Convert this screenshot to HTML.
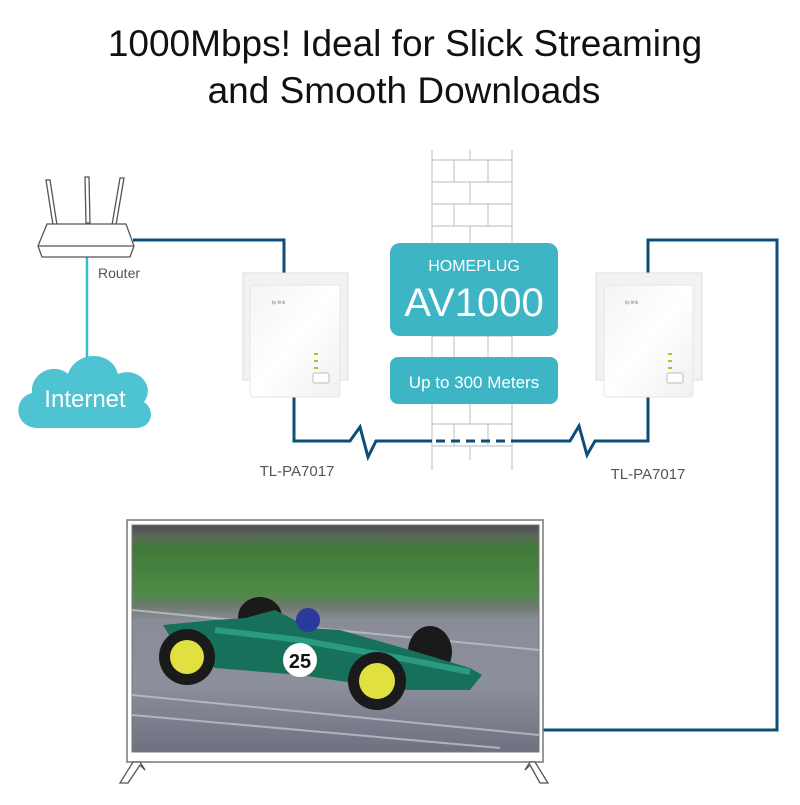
<!DOCTYPE html>
<html><head><meta charset="utf-8"><style>
body{margin:0;background:#fff;width:800px;height:800px;overflow:hidden;font-family:"Liberation Sans",sans-serif}
</style></head><body>
<svg width="800" height="800" viewBox="0 0 800 800" xmlns="http://www.w3.org/2000/svg" font-family="Liberation Sans, sans-serif">
<defs>
<linearGradient id="ad" x1="0" y1="0" x2="1" y2="1"><stop offset="0" stop-color="#f4f4f4"/><stop offset="0.5" stop-color="#ffffff"/><stop offset="1" stop-color="#f0f0f0"/></linearGradient>
<linearGradient id="scr" x1="0" y1="0" x2="0" y2="1">
<stop offset="0" stop-color="#4a4d55"/><stop offset="0.05" stop-color="#5a6a55"/><stop offset="0.1" stop-color="#3f7a3a"/><stop offset="0.3" stop-color="#4f8a45"/><stop offset="0.36" stop-color="#6d7a70"/><stop offset="0.42" stop-color="#8a8d98"/><stop offset="0.7" stop-color="#8c8f9c"/><stop offset="1" stop-color="#6e7180"/></linearGradient>
</defs>
<text x="405" y="56" text-anchor="middle" font-size="37" fill="#111">1000Mbps! Ideal for Slick Streaming</text>
<text x="404" y="103" text-anchor="middle" font-size="37" fill="#111">and Smooth Downloads</text>

<!-- wall -->
<path fill="none" stroke="#c8c8c8" stroke-width="1.2" d="
M432,150V470 M512,150V470
M432,160H512 M432,182H512 M432,204H512 M432,226H512 M432,248H512 M432,270H512 M432,292H512 M432,314H512 M432,336H512 M432,358H512 M432,380H512 M432,402H512 M432,424H512 M432,446H512
M454,160V182 M488,160V182 M454,204V226 M488,204V226 M454,248V270 M488,248V270 M454,292V314 M488,292V314 M454,336V358 M488,336V358 M454,380V402 M488,380V402 M454,424V446 M488,424V446
M470,150V160 M470,182V204 M470,226V248 M470,270V292 M470,314V336 M470,358V380 M470,402V424 M470,446V460"/>

<!-- cables -->
<g fill="none" stroke="#0d4d7a" stroke-width="3">
<polyline points="133,240 284,240 284,274"/>
<polyline points="294,397 294,441 350,441 360,427 368,457 376,441 432,441"/>
<line x1="436" y1="441" x2="512" y2="441" stroke-dasharray="9,6"/>
<polyline points="512,441 570,441 579,426 587,455 595,441 648,441 648,397"/>
<polyline points="648,274 648,240 777,240 777,730 543,730"/>
</g>
<line x1="87" y1="257" x2="87" y2="360" stroke="#3bbccc" stroke-width="2.5"/>

<!-- router -->
<g stroke="#555" stroke-width="1.3" fill="#fff">
<path d="M46,180 L50,180 L57,225 L53,225Z"/>
<path d="M85,177 L89,177 L90,223 L86,223Z"/>
<path d="M120,178 L124,178 L116,225 L112,225Z"/>
<path d="M47,224 L126,224 L134,246 L130,257 L42,257 L38,246Z"/>
<line x1="39" y1="246" x2="133" y2="246"/>
</g>
<text x="98" y="278" font-size="14" fill="#555">Router</text>

<!-- cloud -->
<path d="M38,428 C14,428 12,398 32,393 C30,372 55,362 68,374 C76,350 112,350 118,374 C138,366 156,386 144,402 C156,410 152,428 136,428 Z" fill="#4ec3d2"/>
<text x="85" y="407" text-anchor="middle" font-size="24" fill="#fff">Internet</text>

<!-- adapters -->
<g>
<rect x="243" y="273" width="105" height="107" fill="#f2f2f2" stroke="#ddd"/>
<rect x="250" y="285" width="90" height="112" rx="3" fill="url(#ad)" stroke="#e6e6e6"/>
<text x="272" y="304" font-size="5" fill="#888">tp-link</text>
<rect x="314" y="353" width="4" height="2" fill="#9c3"/><rect x="314" y="360" width="4" height="2" fill="#9c3"/><rect x="314" y="367" width="4" height="2" fill="#9c3"/>
<rect x="313" y="373" width="16" height="10" rx="2" fill="#fff" stroke="#bbb"/>
</g>
<g>
<rect x="596" y="273" width="106" height="107" fill="#f2f2f2" stroke="#ddd"/>
<rect x="604" y="285" width="89" height="112" rx="3" fill="url(#ad)" stroke="#e6e6e6"/>
<text x="625" y="304" font-size="5" fill="#888">tp-link</text>
<rect x="668" y="353" width="4" height="2" fill="#9c3"/><rect x="668" y="360" width="4" height="2" fill="#9c3"/><rect x="668" y="367" width="4" height="2" fill="#9c3"/>
<rect x="667" y="373" width="16" height="10" rx="2" fill="#fff" stroke="#bbb"/>
</g>

<!-- boxes -->
<rect x="390" y="243" width="168" height="93" rx="10" fill="#3db5c4"/>
<text x="474" y="271" text-anchor="middle" font-size="16" fill="#fff">HOMEPLUG</text>
<text x="474" y="316" text-anchor="middle" font-size="40" fill="#fff">AV1000</text>
<rect x="390" y="357" width="168" height="47" rx="8" fill="#3db5c4"/>
<text x="474" y="388" text-anchor="middle" font-size="17" fill="#fff">Up to 300 Meters</text>

<text x="297" y="476" text-anchor="middle" font-size="15" fill="#555">TL-PA7017</text>
<text x="648" y="479" text-anchor="middle" font-size="15" fill="#555">TL-PA7017</text>

<!-- TV -->
<rect x="127" y="520" width="416" height="242" fill="#fff" stroke="#777" stroke-width="1.5"/>
<rect x="132" y="525" width="407" height="227" fill="url(#scr)" stroke="#777"/>
<g stroke="#bfc2cc" stroke-width="2" opacity="0.8">
<line x1="132" y1="610" x2="539" y2="650"/><line x1="132" y1="695" x2="539" y2="735"/><line x1="132" y1="715" x2="500" y2="748"/>
</g>
<!-- car -->
<ellipse cx="260" cy="617" rx="22" ry="20" fill="#1a1a1a"/>
<ellipse cx="430" cy="652" rx="22" ry="26" fill="#1a1a1a"/>
<path d="M163,625 L215,620 L245,618 L275,610 L310,628 L340,630 L410,650 L470,668 L482,675 L470,690 L400,690 L300,675 L215,668 L172,640Z" fill="#17705a"/>
<path d="M215,630 L300,640 L410,660 L470,672" stroke="#2a9a80" stroke-width="6" fill="none"/>
<circle cx="300" cy="660" r="17" fill="#fff"/>
<text x="300" y="668" text-anchor="middle" font-size="20" font-weight="bold" fill="#111">25</text>
<circle cx="308" cy="620" r="12" fill="#2a3a9a"/>
<circle cx="187" cy="657" r="28" fill="#1a1a1a"/><circle cx="187" cy="657" r="17" fill="#e0e040"/>
<circle cx="377" cy="681" r="29" fill="#1a1a1a"/><circle cx="377" cy="681" r="18" fill="#e0e040"/>
<!-- legs -->
<g stroke="#555" stroke-width="1.3" fill="#fff">
<path d="M133,762 L120,783 L128,783 L140,765 L145,770 L140,762Z"/>
<path d="M535,762 L548,783 L540,783 L530,765 L525,770 L530,762Z"/>
</g>
</svg>
</body></html>
